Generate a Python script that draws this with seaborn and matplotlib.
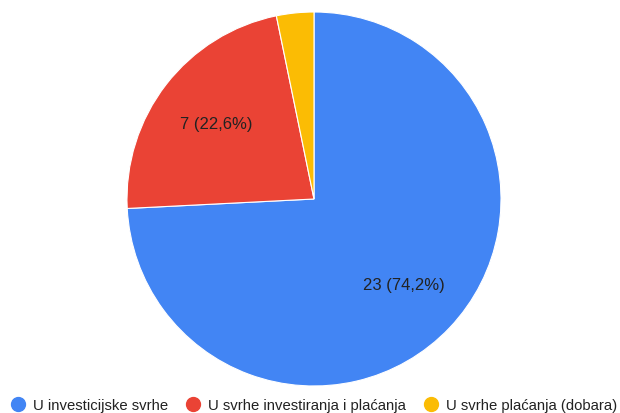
import matplotlib.pyplot as plt
import seaborn as sns
from matplotlib.lines import Line2D

# data
labels = ["U investicijske svrhe", "U svrhe investiranja i plaćanja", "U svrhe plaćanja (dobara)"]
counts = [23, 7, 1]
colors = ["#4285F4", "#EA4335", "#FBBC04"]

sns.set_theme(style="white")
plt.rcParams['font.family'] = ['Liberation Sans', 'DejaVu Sans']

fig = plt.figure(figsize=(6.2, 4.14), dpi=100)
ax = fig.add_axes([126 / 620, 27 / 414, 376 / 620, 374 / 414])

total = sum(counts)

def fmt(pct):
    n = int(round(pct * total / 100))
    if n < 2:
        return ""
    return f"{n} ({pct:.1f}%)".replace(".", ",")

ax.pie(counts, colors=colors, startangle=90, counterclock=False, autopct=fmt,
       pctdistance=0.66, textprops=dict(fontsize=12, color="#222222"),
       wedgeprops=dict(edgecolor="white", linewidth=0.8))
ax.set_aspect("equal")
ax.set_xlim(-1, 1)
ax.set_ylim(-1, 1)
ax.axis("off")

handles = [Line2D([0], [0], marker="o", linestyle="", markersize=10,
                  markerfacecolor=c, markeredgecolor=c) for c in colors]
fig.legend(handles, labels, loc="center", bbox_to_anchor=(0.506, 1 - 406 / 414), ncol=3,
           frameon=False, fontsize=10.7, handlelength=1.0, handletextpad=0.5,
           columnspacing=1.18, borderpad=0, labelcolor="#222222")

plt.savefig("out.png", dpi=100)
